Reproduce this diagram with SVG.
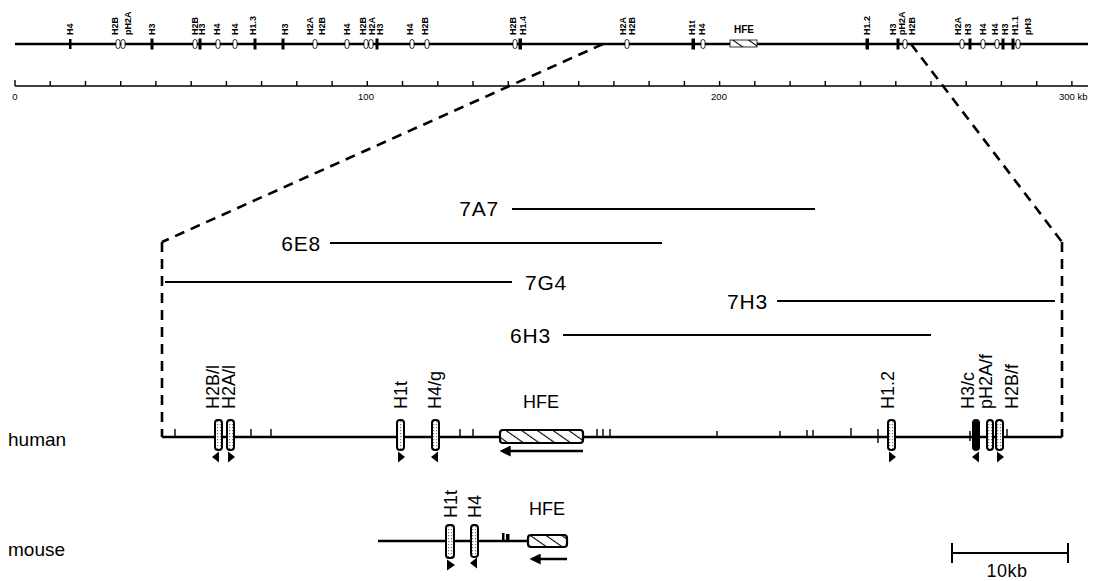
<svg xmlns="http://www.w3.org/2000/svg" width="1099" height="581" viewBox="0 0 1099 581">
<style>
text{font-family:"Liberation Sans",Arial,sans-serif;fill:#000}
.tl{font-size:9px;font-weight:bold}
.sc{font-size:9.5px}
.lab{font-size:18px}
.cl{font-size:21px;letter-spacing:0.8px}
.big{font-size:19px}
.axis{stroke:#000;fill:none}
.tick{stroke:#000;stroke-width:1.4}
.sbar{fill:#000}
.obar{fill:#fff;stroke:#000;stroke-width:0.8}
.gene{fill:url(#stip);stroke:#000;stroke-width:2}
.geneb{fill:#000;stroke:#000;stroke-width:2}
.hfe{fill:url(#hatch);stroke:#000;stroke-width:2.2}
.clone{stroke:#000;stroke-width:2}
.dash{stroke:#000;stroke-width:2.6;stroke-dasharray:10 7;fill:none}
.tri{fill:#000}
</style>
<defs>
<pattern id="stip" width="3" height="3" patternUnits="userSpaceOnUse">
<rect width="3" height="3" fill="#fff"/>
<rect x="1" y="1" width="1.2" height="1.2" fill="#777"/>
</pattern>
<pattern id="hatch" width="9" height="9" patternUnits="userSpaceOnUse" patternTransform="rotate(-55)">
<rect width="9" height="9" fill="#fff"/>
<line x1="0" y1="0" x2="0" y2="9" stroke="#000" stroke-width="2.2"/>
</pattern>
<marker id="ah" viewBox="0 0 10 10" refX="7" refY="5" markerWidth="4.4" markerHeight="4.4" orient="auto" markerUnits="strokeWidth">
<path d="M10,5 L0,0 L0,10 Z" fill="#000"/>
</marker>
</defs>
<rect width="1099" height="581" fill="#fff"/>

<!-- top overview map -->
<g id="overview-map">
<line class="axis" x1="15" y1="44" x2="1088" y2="44" stroke-width="2.5"/>
<g id="top-solid-markers">
<rect class="sbar" x="69" y="39" width="2.5" height="10"/>
<rect class="sbar" x="150.5" y="38.5" width="3" height="11"/>
<rect class="sbar" x="198.5" y="38.5" width="3" height="11"/>
<rect class="sbar" x="253.5" y="38.5" width="3" height="11"/>
<rect class="sbar" x="281.5" y="38.5" width="3" height="11"/>
<rect class="sbar" x="375.5" y="38.5" width="3" height="11"/>
<rect class="sbar" x="518.5" y="38.5" width="3.5" height="11"/>
<rect class="sbar" x="691.5" y="38.5" width="3.5" height="11"/>
<rect class="sbar" x="865.5" y="38.5" width="3.5" height="11"/>
<rect class="sbar" x="896.5" y="38.5" width="3" height="11"/>
<rect class="sbar" x="968.5" y="38.5" width="3" height="11"/>
<rect class="sbar" x="1001.5" y="38.5" width="3" height="11"/>
<rect class="sbar" x="1011.5" y="38.5" width="3" height="11"/>
</g>
<g id="top-open-markers">
<rect class="obar" x="116" y="39.5" width="4" height="9" rx="2"/>
<rect class="obar" x="121" y="39.5" width="4" height="9" rx="2"/>
<rect class="obar" x="193" y="39.5" width="4" height="9" rx="2"/>
<rect class="obar" x="216" y="39.5" width="4" height="9" rx="2"/>
<rect class="obar" x="233" y="39.5" width="4" height="9" rx="2"/>
<rect class="obar" x="313" y="39.5" width="4" height="9" rx="2"/>
<rect class="obar" x="345" y="39.5" width="4" height="9" rx="2"/>
<rect class="obar" x="364" y="39.5" width="4" height="9" rx="2"/>
<rect class="obar" x="369" y="39.5" width="4" height="9" rx="2"/>
<rect class="obar" x="410" y="39.5" width="4" height="9" rx="2"/>
<rect class="obar" x="425" y="39.5" width="4" height="9" rx="2"/>
<rect class="obar" x="513" y="39.5" width="4" height="9" rx="2"/>
<rect class="obar" x="625" y="39.5" width="4" height="9" rx="2"/>
<rect class="obar" x="701" y="39.5" width="4" height="9" rx="2"/>
<rect class="obar" x="903" y="39.5" width="4" height="9" rx="2"/>
<rect class="obar" x="960" y="39.5" width="4" height="9" rx="2"/>
<rect class="obar" x="981" y="39.5" width="4" height="9" rx="2"/>
<rect class="obar" x="995" y="39.5" width="4" height="9" rx="2"/>
<rect class="obar" x="1016" y="39.5" width="4" height="9" rx="2"/>
</g>
<rect x="730" y="40" width="27" height="7" fill="url(#hatch)" stroke="#000" stroke-width="0.8"/>
<text class="tl" x="744" y="33" text-anchor="middle" style="font-size:10px">HFE</text>
<g id="top-labels">
<text class="tl" transform="translate(73,35) rotate(-90)">H4</text>
<text class="tl" transform="translate(118,35) rotate(-90)">H2B</text>
<text class="tl" transform="translate(131,35) rotate(-90)">pH2A</text>
<text class="tl" transform="translate(155,35) rotate(-90)">H3</text>
<text class="tl" transform="translate(198,35) rotate(-90)">H2B</text>
<text class="tl" transform="translate(205,35) rotate(-90)">H3</text>
<text class="tl" transform="translate(220,35) rotate(-90)">H4</text>
<text class="tl" transform="translate(238,35) rotate(-90)">H4</text>
<text class="tl" transform="translate(256,35) rotate(-90)">H1.3</text>
<text class="tl" transform="translate(288,35) rotate(-90)">H3</text>
<text class="tl" transform="translate(313,35) rotate(-90)">H2A</text>
<text class="tl" transform="translate(325,35) rotate(-90)">H2B</text>
<text class="tl" transform="translate(350,35) rotate(-90)">H4</text>
<text class="tl" transform="translate(366,35) rotate(-90)">H2B</text>
<text class="tl" transform="translate(375,35) rotate(-90)">H2A</text>
<text class="tl" transform="translate(383,35) rotate(-90)">H3</text>
<text class="tl" transform="translate(413,35) rotate(-90)">H4</text>
<text class="tl" transform="translate(428,35) rotate(-90)">H2B</text>
<text class="tl" transform="translate(516,35) rotate(-90)">H2B</text>
<text class="tl" transform="translate(526,35) rotate(-90)">H1.4</text>
<text class="tl" transform="translate(626,35) rotate(-90)">H2A</text>
<text class="tl" transform="translate(635,35) rotate(-90)">H2B</text>
<text class="tl" transform="translate(695,35) rotate(-90)">H1t</text>
<text class="tl" transform="translate(705,35) rotate(-90)">H4</text>
<text class="tl" transform="translate(870,35) rotate(-90)">H1.2</text>
<text class="tl" transform="translate(896,35) rotate(-90)">H3</text>
<text class="tl" transform="translate(905,35) rotate(-90)">pH2A</text>
<text class="tl" transform="translate(915,35) rotate(-90)">H2B</text>
<text class="tl" transform="translate(961,35) rotate(-90)">H2A</text>
<text class="tl" transform="translate(971,35) rotate(-90)">H3</text>
<text class="tl" transform="translate(986,35) rotate(-90)">H4</text>
<text class="tl" transform="translate(998,35) rotate(-90)">H4</text>
<text class="tl" transform="translate(1008,35) rotate(-90)">H3</text>
<text class="tl" transform="translate(1018,35) rotate(-90)">H1.1</text>
<text class="tl" transform="translate(1031,35) rotate(-90)">pH3</text>
</g>
</g>

<!-- kb scale -->
<g id="kb-scale">
<line class="axis" x1="15" y1="86" x2="1088" y2="86" stroke-width="1.6"/>
<path class="tick" d="M15,86V80 M50.2,86V81 M85.5,86V81 M120.7,86V81 M155.9,86V81 M191.2,86V81 M226.4,86V81 M261.6,86V81 M296.8,86V81 M332.1,86V81 M367.3,86V81 M402.5,86V81 M437.8,86V81 M473,86V81 M508.2,86V81 M543.5,86V81 M578.7,86V81 M613.9,86V81 M649.1,86V81 M684.4,86V81 M719.6,86V81 M754.8,86V81 M790.1,86V81 M825.3,86V81 M860.5,86V81 M895.8,86V81 M931,86V81 M966.2,86V81 M1001.4,86V81 M1036.7,86V81 M1071.9,86V81"/>
<text class="sc" x="15" y="100" text-anchor="middle">0</text>
<text class="sc" x="366" y="100" text-anchor="middle">100</text>
<text class="sc" x="719" y="100" text-anchor="middle">200</text>
<text class="sc" x="1059" y="100">300 kb</text>
</g>

<!-- zoom connectors -->
<g id="connectors">
<line class="dash" x1="603" y1="44" x2="162" y2="242"/>
<line class="dash" x1="911" y1="44" x2="1062" y2="242"/>
<line class="dash" x1="162" y1="242" x2="162" y2="437"/>
<line class="dash" x1="1062" y1="242" x2="1062" y2="437"/>
</g>

<!-- clones -->
<g id="clone-7A7"><line class="clone" x1="512" y1="209" x2="815" y2="209"/><text class="cl" x="499" y="216" text-anchor="end">7A7</text></g>
<g id="clone-6E8"><line class="clone" x1="330" y1="243" x2="662" y2="243"/><text class="cl" x="321" y="251" text-anchor="end">6E8</text></g>
<g id="clone-7G4"><line class="clone" x1="165" y1="282" x2="512" y2="282"/><text class="cl" x="525" y="290">7G4</text></g>
<g id="clone-7H3"><line class="clone" x1="777" y1="301" x2="1055" y2="301"/><text class="cl" x="768" y="309" text-anchor="end">7H3</text></g>
<g id="clone-6H3"><line class="clone" x1="563" y1="335" x2="931" y2="335"/><text class="cl" x="551" y="343" text-anchor="end">6H3</text></g>

<!-- human -->
<g id="human">
<text class="big" x="8" y="446">human</text>
<line class="axis" x1="162" y1="437" x2="1062" y2="437" stroke-width="2.5"/>
<path class="tick" d="M175,437V429 M251,437V429 M271,437V429 M460,437V429 M473,437V429 M597,437V429 M603,437V429 M610,437V429 M717,437V431 M780,437V431 M807,437V430 M813,437V430 M851,437V428 M878,443V429 M1007,437V429 M970,441V431"/>
<g id="gene-H2B-l"><rect class="gene" x="215" y="420" width="7" height="30" rx="3"/><path class="tri" d="M212,457 L219,451.5 L219,462.5 Z"/><text class="lab" transform="translate(219,409) rotate(-90)">H2B/l</text></g>
<g id="gene-H2A-l"><rect class="gene" x="227" y="420" width="7" height="30" rx="3"/><path class="tri" d="M235,457 L228,451.5 L228,462.5 Z"/><text class="lab" transform="translate(235,409) rotate(-90)">H2A/l</text></g>
<g id="gene-H1t"><rect class="gene" x="397" y="420" width="7" height="30" rx="3"/><path class="tri" d="M405,457 L398,451.5 L398,462.5 Z"/><text class="lab" transform="translate(407,409) rotate(-90)">H1t</text></g>
<g id="gene-H4-g"><rect class="gene" x="432" y="420" width="7" height="30" rx="3"/><path class="tri" d="M431,457 L438,451.5 L438,462.5 Z"/><text class="lab" transform="translate(441,409) rotate(-90)">H4/g</text></g>
<g id="gene-HFE"><rect class="hfe" x="500" y="430" width="83" height="13" rx="3"/><line x1="583" y1="451" x2="503" y2="451" stroke="#000" stroke-width="2.5" marker-end="url(#ah)"/><text class="lab" x="541" y="408" text-anchor="middle">HFE</text></g>
<g id="gene-H1.2"><rect class="gene" x="888" y="420" width="7" height="30" rx="3"/><path class="tri" d="M896,457 L889,451.5 L889,462.5 Z"/><text class="lab" transform="translate(894,409) rotate(-90)">H1.2</text></g>
<g id="gene-H3-c"><rect class="geneb" x="973" y="420" width="6" height="30" rx="3"/><path class="tri" d="M972,457 L979,451.5 L979,462.5 Z"/><text class="lab" transform="translate(974,409) rotate(-90)">H3/c</text></g>
<g id="gene-pH2A-f"><rect class="gene" x="987" y="420" width="6" height="30" rx="3"/><text class="lab" transform="translate(992,409) rotate(-90)">pH2A/f</text></g>
<g id="gene-H2B-f"><rect class="gene" x="996" y="420" width="7" height="30" rx="3"/><path class="tri" d="M1004,457 L997,451.5 L997,462.5 Z"/><text class="lab" transform="translate(1018,409) rotate(-90)">H2B/f</text></g>
</g>

<!-- mouse -->
<g id="mouse">
<text class="big" x="8" y="556">mouse</text>
<line class="axis" x1="378" y1="541" x2="528" y2="541" stroke-width="2.5"/>
<rect x="502" y="533" width="2.5" height="8" fill="#000"/>
<rect x="506" y="534" width="3.5" height="7" fill="#000"/>
<g id="mgene-H1t"><rect class="gene" x="446" y="525" width="8" height="33" rx="3"/><path class="tri" d="M455,565 L447,559.5 L447,570.5 Z"/><text class="lab" transform="translate(457,518) rotate(-90)">H1t</text></g>
<g id="mgene-H4"><rect class="gene" x="471" y="525" width="7" height="32" rx="3"/><path class="tri" d="M470,563 L477,557.5 L477,568.5 Z"/><text class="lab" transform="translate(481,518) rotate(-90)">H4</text></g>
<g id="mgene-HFE"><rect class="hfe" x="528" y="535" width="39" height="12" rx="3"/><line x1="567" y1="559" x2="533" y2="559" stroke="#000" stroke-width="2.5" marker-end="url(#ah)"/><text class="lab" x="547" y="515" text-anchor="middle">HFE</text></g>
</g>

<!-- 10 kb bar -->
<g id="scale-bar">
<line x1="952" y1="553" x2="1068" y2="553" stroke="#000" stroke-width="2"/>
<line x1="952" y1="543" x2="952" y2="563" stroke="#000" stroke-width="2"/>
<line x1="1068" y1="543" x2="1068" y2="563" stroke="#000" stroke-width="2"/>
<text class="lab" x="1007" y="577" text-anchor="middle" style="letter-spacing:0.5px">10kb</text>
</g>
</svg>
